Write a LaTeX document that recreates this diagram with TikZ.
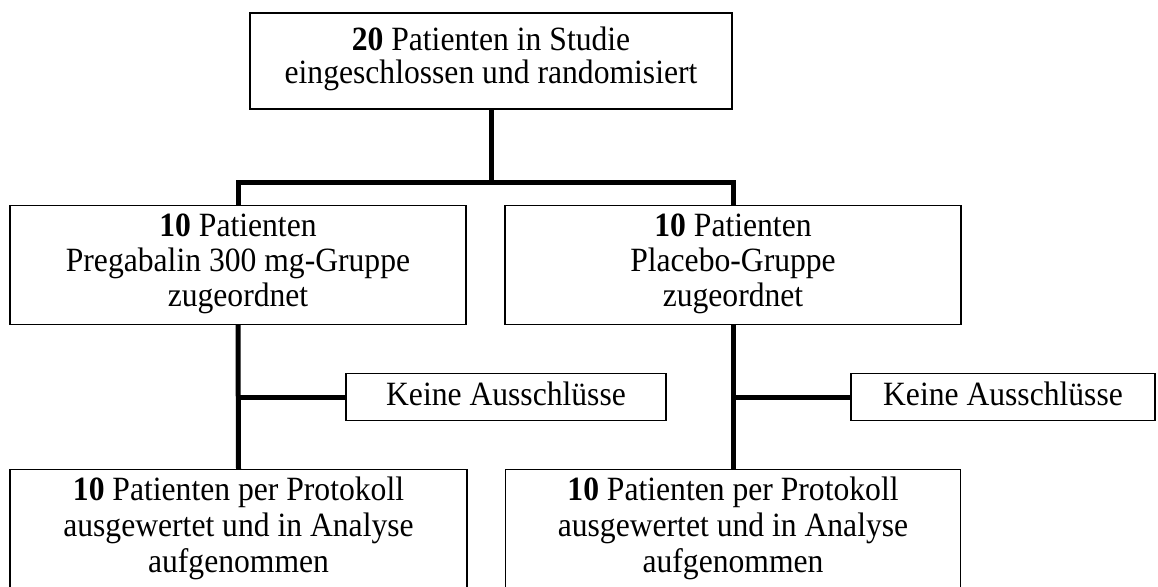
\documentclass[tikz,border=0pt]{standalone}
\usepackage{fontspec}
\setmainfont[FakeStretch=0.93]{Liberation Serif}
\begin{document}
\begin{tikzpicture}[x=1pt,y=-1pt,
  box/.style={draw=black, line width=1.4pt, rectangle, inner sep=0pt},
  txt/.style={align=center, inner sep=0pt, anchor=north},
  fA/.style={font=\fontsize{34}{33}\selectfont},
  fB/.style={font=\fontsize{34}{35}\selectfont},
  fC/.style={font=\fontsize{34}{36}\selectfont},
  conn/.style={draw=black, line width=5pt, line join=miter, line cap=butt}]
\useasboundingbox[fill=white] (0,0) rectangle (1158,586);
% boxes
\node[box, minimum width=482pt, minimum height=96pt] (top) at (491,61) {};
\node[box, minimum width=456pt, minimum height=119pt] (left) at (238,265) {};
\node[box, minimum width=456pt, minimum height=119pt] (right) at (733,265) {};
\node[box, minimum width=320pt, minimum height=47pt] (exL) at (506,397) {};
\node[box, minimum width=304pt, minimum height=47pt] (exR) at (1003,397) {};
\node[box, minimum width=457pt, minimum height=130pt, anchor=north] (botL) at (238.5,469) {};
\node[box, minimum width=455pt, minimum height=130pt, anchor=north] (botR) at (733,469) {};
% texts
\node[txt, fA] (topT) at (491,26.8)
  {\textbf{20} Patienten in Studie\\eingeschlossen und randomisiert};
\node[txt, fB] (leftT) at (238,213.8)
  {\textbf{10} Patienten\\Pregabalin 300 mg-Gruppe\\zugeordnet};
\node[txt, fB] (rightT) at (733,213.8)
  {\textbf{10} Patienten\\Placebo-Gruppe\\zugeordnet};
\node[txt, fA] (exLT) at (506,381.8) {Keine Ausschlüsse};
\node[txt, fA] (exRT) at (1003,381.8) {Keine Ausschlüsse};
\node[txt, fC] (botLT) at (238.5,476.8)
  {\textbf{10} Patienten per Protokoll\\ausgewertet und in Analyse\\aufgenommen};
\node[txt, fC] (botRT) at (733,476.8)
  {\textbf{10} Patienten per Protokoll\\ausgewertet und in Analyse\\aufgenommen};
% connectors
\coordinate (bar) at (0,182);
\draw[conn] (top.south) -- (top.south |- bar);
\draw[conn] (left.north) -- (left.north |- bar) -- (right.north |- bar) -- (right.north);
\draw[conn] (left.south) -- (botL.north);
\draw[conn] (left.south |- exL.west) -- (exL.west);
\draw[conn] (right.south) -- (botR.north);
\draw[conn] (right.south |- exR.west) -- (exR.west);
\end{tikzpicture}
\end{document}
